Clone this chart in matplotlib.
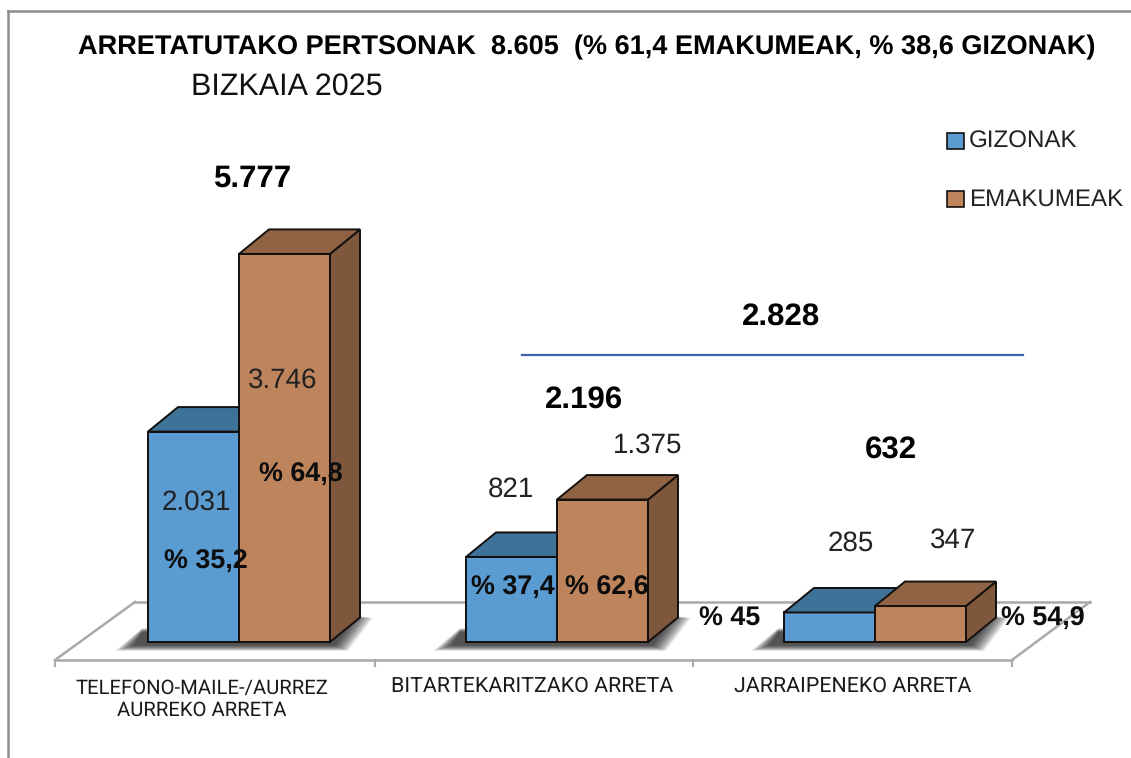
import matplotlib
matplotlib.use("Agg")
import matplotlib.pyplot as plt
from matplotlib.lines import Line2D

plt.rcParams['font.family'] = ['Liberation Sans', 'DejaVu Sans']
plt.rcParams['text.hinting'] = 'no_hinting'

W, H = 1131, 758

categories = ["TELEFONO-MAILE-/AURREZ\nAURREKO ARRETA", "BITARTEKARITZAKO ARRETA", "JARRAIPENEKO ARRETA"]
gizonak = [2031, 821, 285]
emakumeak = [3746, 1375, 347]
totals = ["5.777", "2.196", "632"]
giz_labels = ["2.031", "821", "285"]
ema_labels = ["3.746", "1.375", "347"]
giz_pct = ["% 35,2", "% 37,4", "% 45"]
ema_pct = ["% 64,8", "% 62,6", "% 54,9"]

BLUE, BLUE_TOP = "#5A9BD1", "#3F7299"
BROWN, BROWN_TOP, BROWN_SIDE = "#BE845C", "#8F6344", "#7F573C"
EDGE = "#14100e"
GREY = "#a9a9a9"

# escala: 1 categoria = 318 px, 1 unidade = 0.1036 px
PX_X = 318.0
PX_Y = 0.1036
X0 = 239.0   # centro do primeiro grupo
Y0 = 642.0   # base das barras
BW = 91 / PX_X
DX = 30 / PX_X
DY = 24.5 / PX_Y


def px(x, y):
    return x / W, 1 - y / H


fig = plt.figure(figsize=(W / 100, H / 100), dpi=100)
ax = fig.add_axes([0, 0, 1, 1])
ax.set_xlim(-X0 / PX_X, (W - X0) / PX_X)
ax.set_ylim(-(H - Y0) / PX_Y, Y0 / PX_Y)
ax.axis('off')
ax.set_zorder(1)

# moldura
for xs, ys in [([8, 8], [11, 758]), ([8, 1131], [11, 11])]:
    fig.add_artist(Line2D([x / W for x in xs], [1 - y / H for y in ys], color="#8c8c8c", lw=1.8, zorder=0.5))

# chao
floor = [([55, 135], [660, 602]), ([135, 1090], [602, 602]), ([1090, 1012], [602, 660]), ([55, 1012], [660, 660])]
for xs, ys in floor:
    fig.add_artist(Line2D([x / W for x in xs], [1 - y / H for y in ys], color=GREY, lw=1.8, zorder=0.5))
for x in [55, 375, 693, 1012]:
    fig.add_artist(Line2D([x / W, x / W], [1 - 660 / H, 1 - 666 / H], color=GREY, lw=1.5, zorder=0.5))

# sombra
for i in range(len(categories)):
    l = i - BW
    r = i + BW
    for k in range(12):
        g = 12 - k * 1.2
        sx = [l + (-16 - g * 1.4) / PX_X, l + (-6) / PX_X, r + 24 / PX_X, r + (26 + g * 1.4) / PX_X, r + (6 + g) / PX_X]
        sy = [-(4 + g * 0.4) / PX_Y, (10 + g * 0.3) / PX_Y, (24 + g * 0.2) / PX_Y, 24 / PX_Y, -(4 + g * 0.4) / PX_Y]
        ax.fill(sx, sy, color="black", alpha=0.085, lw=0, zorder=1)

# barras 3D
for i in range(len(categories)):
    for val, left, front, top, side in [(gizonak[i], i - BW, BLUE, BLUE_TOP, BLUE_TOP),
                                        (emakumeak[i], i, BROWN, BROWN_TOP, BROWN_SIDE)]:
        ax.bar(left, val, BW, align='edge', color=front, edgecolor=EDGE, lw=1.4, zorder=2 + i)
        ax.fill([left + BW, left + BW + DX, left + BW + DX, left + BW],
                [0, DY, val + DY, val], facecolor=side, edgecolor=EDGE, lw=1.4, zorder=2 + i)
        ax.fill([left, left + DX, left + BW + DX, left + BW],
                [val, val + DY, val + DY, val], facecolor=top, edgecolor=EDGE, lw=1.4, zorder=2 + i)


def txt(x, y, s, size, weight='normal', ha='center', color='#111111', z=10, **kw):
    fx, fy = px(x, y + 2)
    fig.text(fx, fy, s, fontsize=size, fontweight=weight, ha=ha, va='center', color=color, zorder=z, **kw)


txt(78, 45, "ARRETATUTAKO PERTSONAK  8.605  (% 61,4 EMAKUMEAK, % 38,6 GIZONAK)", 19.5, 'bold', ha='left', color='black')
txt(191, 85, "BIZKAIA 2025", 22, ha='left')

# totais
for (x, y), s in zip([(252, 177), (584, 398), (891, 448)], totals):
    txt(x, y, s, 22.5, 'bold', color='black')
txt(781, 315, "2.828", 22.5, 'bold', color='black')
fig.add_artist(Line2D([522 / W, 1023 / W], [1 - 355 / H, 1 - 355 / H], color="#3b62ab", lw=1.6, zorder=0.5))

# valores
for (x, y), s in zip([(196, 500), (511, 487), (851, 541)], giz_labels):
    txt(x, y, s, 20, color='#222222')
for (x, y), s in zip([(283, 378), (648, 443), (953, 538)], ema_labels):
    txt(x, y, s, 20, color='#222222')

# percentagens
for (x, y), s in zip([(206, 560), (513, 586), (730, 617)], giz_pct):
    txt(x, y, s, 19.4, 'bold', color='#0d0d0d')
for (x, y), s in zip([(301, 473), (607, 586), (1043, 617)], ema_pct):
    txt(x, y, s, 19.4, 'bold', color='#0d0d0d')

# rotulos do eixo
for (x, y), size, s in zip([(202, 697), (532, 684), (853, 684)], [14.6, 15.4, 15.4], categories):
    txt(x, y, s, size, color='#1a1a1a', linespacing=1.2, family=['Roboto', 'DejaVu Sans'])

# legenda
for y, c, s in [(141, BLUE, "GIZONAK"), (199, BROWN, "EMAKUMEAK")]:
    fx, fy = px(947, y + 8)
    fig.patches.append(plt.Rectangle((fx, fy), 17 / W, 16 / H, transform=fig.transFigure,
                                     facecolor=c, edgecolor=EDGE, lw=1.2))
    txt(969, y - 1, s, 17.4, ha='left', color='#222222')

fig.savefig("out.png", dpi=100)
